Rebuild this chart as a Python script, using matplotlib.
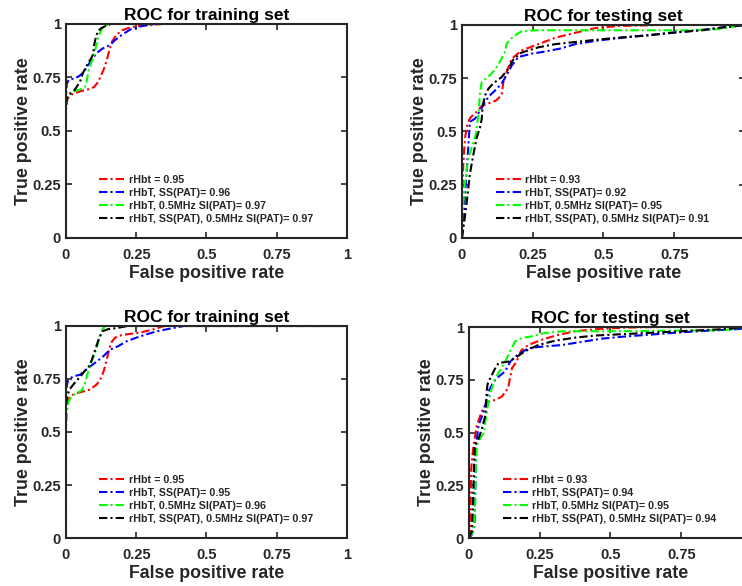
import matplotlib
matplotlib.use("Agg")
import matplotlib.pyplot as plt

plt.rcParams['font.family'] = ['Liberation Sans', 'DejaVu Sans']
plt.rcParams['font.weight'] = 'bold'

# ---- training set, upper row ----
tl_red_fpr = [0, 0, 0.005, 0.02, 0.05, 0.08, 0.1, 0.115, 0.125, 0.135, 0.145, 0.155, 0.165, 0.18, 0.2, 0.23, 0.28, 0.35, 1]
tl_red_tpr = [0, 0.6, 0.65, 0.67, 0.685, 0.695, 0.705, 0.73, 0.76, 0.79, 0.83, 0.88, 0.92, 0.95, 0.97, 0.985, 0.995, 1.0, 1]
tl_blue_fpr = [0, 0, 0.003, 0.01, 0.03, 0.045, 0.06, 0.075, 0.09, 0.11, 0.13, 0.155, 0.175, 0.2, 0.23, 0.27, 0.32, 1]
tl_blue_tpr = [0, 0.65, 0.72, 0.74, 0.745, 0.755, 0.77, 0.8, 0.83, 0.865, 0.885, 0.9, 0.925, 0.95, 0.975, 0.99, 1, 1]
tl_green_fpr = [0, 0, 0.005, 0.02, 0.04, 0.065, 0.072, 0.076, 0.082, 0.09, 0.1, 0.108, 0.115, 0.125, 0.135, 0.16, 1]
tl_green_tpr = [0, 0.6, 0.66, 0.68, 0.69, 0.70, 0.72, 0.75, 0.79, 0.82, 0.855, 0.9, 0.94, 0.97, 0.99, 1, 1]
tl_black_fpr = [0, 0, 0.005, 0.015, 0.03, 0.04, 0.05, 0.06, 0.068, 0.08, 0.09, 0.097, 0.1, 0.105, 0.113, 0.125, 0.14, 0.16, 1]
tl_black_tpr = [0, 0.62, 0.66, 0.675, 0.69, 0.71, 0.73, 0.77, 0.79, 0.82, 0.84, 0.86, 0.9, 0.93, 0.965, 0.98, 0.99, 1, 1]
tl_auc = [0.95, 0.96, 0.97, 0.97]

# ---- testing set, upper row ----
tr_red_fpr = [0, 0.001, 0.003, 0.007, 0.012, 0.02, 0.03, 0.05, 0.07, 0.09, 0.12, 0.14, 0.146, 0.158, 0.175, 0.21, 0.27, 0.33, 0.39, 0.47, 0.55, 0.7, 1]
tr_red_tpr = [0, 0.15, 0.3, 0.4, 0.48, 0.54, 0.565, 0.59, 0.62, 0.63, 0.645, 0.67, 0.73, 0.78, 0.84, 0.88, 0.91, 0.94, 0.96, 0.985, 0.995, 1, 1]
tr_blue_fpr = [0, 0.011, 0.022, 0.028, 0.046, 0.058, 0.07, 0.081, 0.099, 0.123, 0.14, 0.158, 0.176, 0.2, 0.246, 0.293, 0.35, 0.4, 0.47, 0.5, 0.6, 0.72, 0.8, 0.9, 1]
tr_blue_tpr = [0, 0.2, 0.42, 0.545, 0.56, 0.585, 0.61, 0.64, 0.67, 0.70, 0.725, 0.765, 0.81, 0.85, 0.865, 0.875, 0.89, 0.91, 0.925, 0.93, 0.945, 0.96, 0.97, 0.985, 1]
tr_green_fpr = [0, 0.001, 0.011, 0.022, 0.04, 0.048, 0.058, 0.064, 0.07, 0.093, 0.117, 0.134, 0.152, 0.158, 0.181, 0.21, 0.26, 0.5, 0.8, 0.9, 1]
tr_green_tpr = [0, 0.108, 0.264, 0.373, 0.45, 0.48, 0.577, 0.687, 0.734, 0.757, 0.79, 0.828, 0.873, 0.913, 0.945, 0.97, 0.975, 0.975, 0.975, 0.98, 1]
tr_black_fpr = [0, 0.005, 0.017, 0.028, 0.04, 0.052, 0.064, 0.07, 0.073, 0.082, 0.093, 0.11, 0.14, 0.164, 0.18, 0.21, 0.27, 0.33, 0.4, 0.47, 0.55, 0.65, 0.75, 0.85, 0.93, 1]
tr_black_tpr = [0, 0.045, 0.17, 0.3, 0.39, 0.47, 0.52, 0.56, 0.62, 0.67, 0.70, 0.725, 0.755, 0.795, 0.835, 0.87, 0.895, 0.91, 0.92, 0.93, 0.94, 0.95, 0.965, 0.975, 0.99, 1]
tr_auc = [0.93, 0.92, 0.95, 0.91]

# ---- training set, lower row ----
bl_red_fpr = [0, 0, 0.005, 0.015, 0.03, 0.05, 0.085, 0.11, 0.125, 0.135, 0.145, 0.152, 0.16, 0.175, 0.2, 0.26, 0.3, 0.35, 1]
bl_red_tpr = [0, 0.6, 0.645, 0.668, 0.68, 0.687, 0.70, 0.725, 0.755, 0.79, 0.84, 0.88, 0.92, 0.945, 0.958, 0.968, 0.98, 1, 1]
bl_blue_fpr = [0, 0, 0.003, 0.008, 0.025, 0.05, 0.073, 0.097, 0.127, 0.157, 0.186, 0.216, 0.263, 0.323, 0.38, 0.42, 1]
bl_blue_tpr = [0, 0.65, 0.72, 0.745, 0.762, 0.77, 0.795, 0.82, 0.85, 0.888, 0.905, 0.928, 0.951, 0.975, 0.99, 1, 1]
bl_green_fpr = [0, 0, 0.003, 0.008, 0.02, 0.04, 0.055, 0.065, 0.072, 0.08, 0.09, 0.1, 0.11, 0.12, 0.13, 0.14, 1]
bl_green_tpr = [0, 0.5, 0.58, 0.64, 0.67, 0.685, 0.695, 0.72, 0.75, 0.79, 0.83, 0.86, 0.9, 0.95, 0.985, 1, 1]
bl_black_fpr = [0, 0, 0.003, 0.012, 0.03, 0.05, 0.068, 0.085, 0.097, 0.107, 0.117, 0.13, 0.15, 0.18, 0.22, 1]
bl_black_tpr = [0, 0.62, 0.66, 0.7, 0.73, 0.76, 0.79, 0.815, 0.86, 0.9, 0.94, 0.975, 0.985, 0.99, 1, 1]
bl_auc = [0.95, 0.95, 0.96, 0.97]

# ---- testing set, lower row ----
br_red_fpr = [0, 0.005, 0.006, 0.008, 0.016, 0.028, 0.04, 0.052, 0.069, 0.093, 0.116, 0.138, 0.145, 0.152, 0.168, 0.185, 0.21, 0.257, 0.316, 0.375, 0.45, 0.55, 0.65, 1]
br_red_tpr = [0, 0.01, 0.15, 0.33, 0.44, 0.535, 0.58, 0.62, 0.645, 0.655, 0.67, 0.71, 0.757, 0.805, 0.835, 0.89, 0.915, 0.94, 0.963, 0.98, 0.99, 0.997, 1, 1]
br_blue_fpr = [0, 0.01, 0.02, 0.025, 0.034, 0.046, 0.058, 0.069, 0.087, 0.105, 0.128, 0.146, 0.163, 0.21, 0.257, 0.33, 0.4, 0.47, 0.55, 0.65, 0.75, 0.85, 0.95, 1]
br_blue_tpr = [0, 0.015, 0.06, 0.44, 0.535, 0.576, 0.63, 0.695, 0.74, 0.765, 0.79, 0.836, 0.86, 0.9, 0.907, 0.915, 0.93, 0.945, 0.955, 0.965, 0.975, 0.983, 0.99, 1]
br_green_fpr = [0, 0.016, 0.022, 0.024, 0.028, 0.04, 0.052, 0.06, 0.069, 0.081, 0.093, 0.111, 0.128, 0.146, 0.163, 0.186, 0.222, 0.269, 0.33, 0.5, 0.75, 0.9, 1]
br_green_tpr = [0, 0.03, 0.158, 0.33, 0.44, 0.474, 0.497, 0.569, 0.648, 0.71, 0.757, 0.797, 0.836, 0.885, 0.932, 0.948, 0.956, 0.972, 0.98, 0.98, 0.983, 0.985, 1]
br_black_fpr = [0, 0.01, 0.014, 0.016, 0.02, 0.034, 0.046, 0.058, 0.063, 0.066, 0.075, 0.093, 0.105, 0.14, 0.163, 0.198, 0.245, 0.304, 0.375, 0.45, 0.6, 0.75, 0.9, 1]
br_black_tpr = [0, 0.03, 0.15, 0.25, 0.44, 0.47, 0.52, 0.58, 0.7, 0.73, 0.757, 0.805, 0.83, 0.836, 0.853, 0.885, 0.915, 0.935, 0.95, 0.96, 0.97, 0.98, 0.99, 1]
br_auc = [0.93, 0.94, 0.95, 0.94]

model_names = ['rHbt = ', 'rHbT, SS(PAT)= ', 'rHbT, 0.5MHz SI(PAT)= ',
               'rHbT, SS(PAT), 0.5MHz SI(PAT)= ']
line_colors = ['#ff0000', '#0000ff', '#00ff00', '#000000']
ticks = [0, 0.25, 0.5, 0.75, 1]
tick_labels = ['0', '0.25', '0.5', '0.75', '1']
# the right-hand panels run past the figure edge, so their last x label is not drawn
tick_labels_clipped = ['0', '0.25', '0.5', '0.75', '']

panels = [
    ('ROC for training set', [0.0889, 0.5939, 0.3787, 0.3652],
     [(tl_red_fpr, tl_red_tpr), (tl_blue_fpr, tl_blue_tpr),
      (tl_green_fpr, tl_green_tpr), (tl_black_fpr, tl_black_tpr)], tl_auc, tick_labels),
    ('ROC for testing set', [0.6226, 0.5939, 0.3814, 0.3635],
     [(tr_red_fpr, tr_red_tpr), (tr_blue_fpr, tr_blue_tpr),
      (tr_green_fpr, tr_green_tpr), (tr_black_fpr, tr_black_tpr)], tr_auc, tick_labels_clipped),
    ('ROC for training set', [0.0889, 0.0819, 0.3787, 0.3618],
     [(bl_red_fpr, bl_red_tpr), (bl_blue_fpr, bl_blue_tpr),
      (bl_green_fpr, bl_green_tpr), (bl_black_fpr, bl_black_tpr)], bl_auc, tick_labels),
    ('ROC for testing set', [0.632, 0.0819, 0.3814, 0.360],
     [(br_red_fpr, br_red_tpr), (br_blue_fpr, br_blue_tpr),
      (br_green_fpr, br_green_tpr), (br_black_fpr, br_black_tpr)], br_auc, tick_labels_clipped),
]

fig = plt.figure(figsize=(7.42, 5.86), dpi=100)
frame_color = '#262626'
dashdot = (0, (4, 1.5, 1, 1.5))

for title, rect, curves, aucs, xlabels in panels:
    ax = fig.add_axes(rect)
    for (fpr, tpr), color, name, auc in zip(curves, line_colors, model_names, aucs):
        ax.plot(fpr, tpr, color=color, lw=1.5, linestyle=dashdot,
                label=f'{name}{auc:.2f}')
    ax.set_xlim(0, 1)
    ax.set_ylim(0, 1)
    ax.set_xticks(ticks)
    ax.set_xticklabels(xlabels)
    ax.set_yticks(ticks)
    ax.set_yticklabels(tick_labels)
    ax.tick_params(direction='in', top=True, right=True, length=4, width=1.2,
                   labelsize=10.5, colors=frame_color)
    ax.tick_params(axis='x', pad=7)
    ax.tick_params(axis='y', pad=3.5)
    for lbl in ax.get_xticklabels() + ax.get_yticklabels():
        lbl.set_fontweight('bold')
    for sp in ax.spines.values():
        sp.set_linewidth(1.5)
        sp.set_color(frame_color)
    ax.set_xlabel('False positive rate', fontsize=12.8, fontweight='bold',
                  color=frame_color, labelpad=2.5)
    ax.set_ylabel('True positive rate', fontsize=12.8, fontweight='bold',
                  color=frame_color, labelpad=0.5)
    ax.set_title(title, fontsize=12.5, fontweight='bold', pad=3)
    leg = ax.legend(loc='lower left', bbox_to_anchor=(0.1, 0.04), frameon=False,
                    prop={'size': 7.7, 'weight': 'bold'}, handlelength=2.5,
                    handletextpad=0.25, labelspacing=0.28, borderpad=0)
    for t in leg.get_texts():
        t.set_color(frame_color)

fig.savefig('out.png', dpi=100)
